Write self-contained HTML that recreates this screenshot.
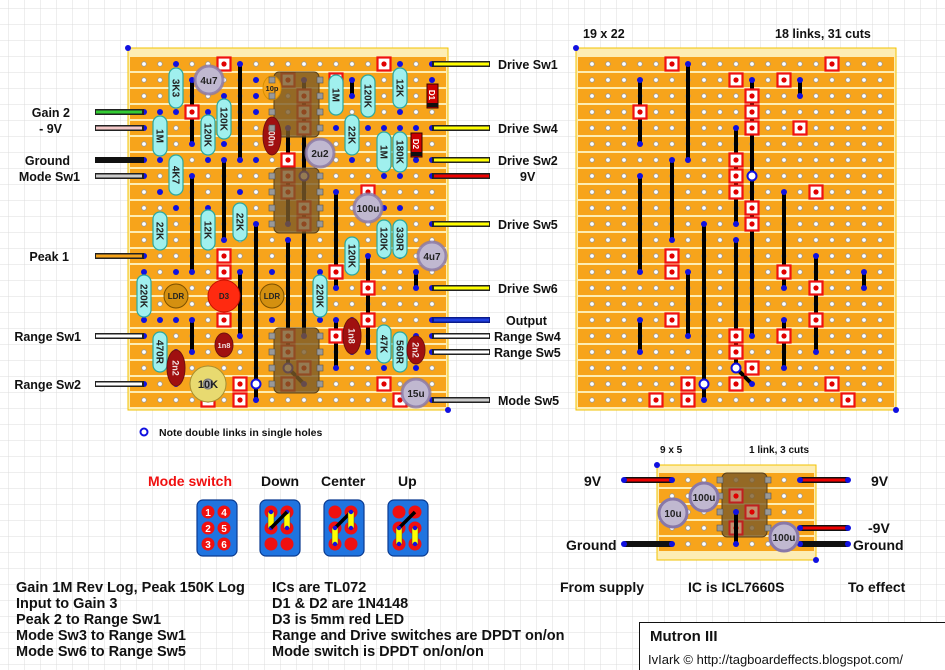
<!DOCTYPE html>
<html><head><meta charset="utf-8"><style>
html,body{margin:0;padding:0;background:#fff}
svg{display:block}
text{font-family:"Liberation Sans",Arial,sans-serif;font-weight:bold}
</style></head><body>
<svg id="s" width="945" height="670" viewBox="0 0 945 670" xmlns="http://www.w3.org/2000/svg">
<defs>
<pattern id="grid" width="16" height="16" patternUnits="userSpaceOnUse" x="8" y="8">
<path d="M16 0H0V16" fill="none" stroke="#dcdcdc" stroke-width="1"/>
</pattern>
</defs>
<rect width="945" height="670" fill="url(#grid)"/>
<g id="base"></g>

<g stroke-linecap="butt">
<line x1="95" y1="112" x2="144" y2="112" stroke="#222" stroke-width="6"/><line x1="96" y1="112" x2="142" y2="112" stroke="#3c3" stroke-width="3"/>
<line x1="95" y1="128" x2="144" y2="128" stroke="#222" stroke-width="6"/><line x1="96" y1="128" x2="142" y2="128" stroke="#f4c8c8" stroke-width="3"/>
<line x1="95" y1="160" x2="144" y2="160" stroke="#111" stroke-width="6"/>
<line x1="95" y1="176" x2="144" y2="176" stroke="#222" stroke-width="6"/><line x1="96" y1="176" x2="142" y2="176" stroke="#ccc" stroke-width="3"/>
<line x1="95" y1="256" x2="144" y2="256" stroke="#222" stroke-width="6"/><line x1="96" y1="256" x2="142" y2="256" stroke="#f5a31a" stroke-width="3"/>
<line x1="95" y1="336" x2="144" y2="336" stroke="#222" stroke-width="6"/><line x1="96" y1="336" x2="142" y2="336" stroke="#fff" stroke-width="3"/>
<line x1="95" y1="384" x2="144" y2="384" stroke="#222" stroke-width="6"/><line x1="96" y1="384" x2="142" y2="384" stroke="#fff" stroke-width="3"/>
<line x1="432" y1="64" x2="490" y2="64" stroke="#222" stroke-width="6"/><line x1="434" y1="64" x2="489" y2="64" stroke="#ff0" stroke-width="3"/>
<line x1="432" y1="128" x2="490" y2="128" stroke="#222" stroke-width="6"/><line x1="434" y1="128" x2="489" y2="128" stroke="#ff0" stroke-width="3"/>
<line x1="432" y1="160" x2="490" y2="160" stroke="#222" stroke-width="6"/><line x1="434" y1="160" x2="489" y2="160" stroke="#ff0" stroke-width="3"/>
<line x1="432" y1="176" x2="490" y2="176" stroke="#222" stroke-width="6"/><line x1="434" y1="176" x2="489" y2="176" stroke="#e00" stroke-width="3"/>
<line x1="432" y1="224" x2="490" y2="224" stroke="#222" stroke-width="6"/><line x1="434" y1="224" x2="489" y2="224" stroke="#ff0" stroke-width="3"/>
<line x1="432" y1="288" x2="490" y2="288" stroke="#222" stroke-width="6"/><line x1="434" y1="288" x2="489" y2="288" stroke="#ff0" stroke-width="3"/>
<line x1="432" y1="320" x2="490" y2="320" stroke="#0a1a8a" stroke-width="6"/><line x1="434" y1="320" x2="489" y2="320" stroke="#2040e0" stroke-width="3"/>
<line x1="432" y1="336" x2="490" y2="336" stroke="#222" stroke-width="6"/><line x1="434" y1="336" x2="489" y2="336" stroke="#fff" stroke-width="3"/>
<line x1="432" y1="352" x2="490" y2="352" stroke="#222" stroke-width="6"/><line x1="434" y1="352" x2="489" y2="352" stroke="#fff" stroke-width="3"/>
<line x1="432" y1="400" x2="490" y2="400" stroke="#222" stroke-width="6"/><line x1="434" y1="400" x2="489" y2="400" stroke="#ccc" stroke-width="3"/>
</g>

<g fill="#7a5a28" fill-opacity="0.8" stroke="#5a4018">
<rect x="274" y="72" width="45" height="65" rx="5"/>
<rect x="274" y="168" width="45" height="65" rx="5"/>
<rect x="274" y="328" width="45" height="65" rx="5"/>
</g>

<g fill="#a0f0ee" stroke="#2aa8a0" stroke-width="1.2">
<rect x="169" y="68" width="14" height="40" rx="7"/>
<rect x="153" y="116" width="14" height="40" rx="7"/>
<rect x="169" y="155" width="14" height="40" rx="7"/>
<rect x="201" y="115" width="14" height="40" rx="7"/>
<rect x="217" y="99" width="14" height="40" rx="7"/>
<rect x="329" y="75" width="14" height="40" rx="7"/>
<rect x="361" y="75" width="14" height="42" rx="7"/>
<rect x="345" y="115" width="14" height="40" rx="7"/>
<rect x="393" y="68" width="14" height="40" rx="7"/>
<rect x="377" y="132" width="14" height="40" rx="7"/>
<rect x="393" y="132" width="14" height="40" rx="7"/>
<rect x="153" y="212" width="14" height="38" rx="7"/>
<rect x="201" y="210" width="14" height="40" rx="7"/>
<rect x="233" y="203" width="14" height="38" rx="7"/>
<rect x="137" y="275" width="14" height="42" rx="7"/>
<rect x="313" y="275" width="14" height="42" rx="7"/>
<rect x="345" y="237" width="14" height="38" rx="7"/>
<rect x="377" y="220" width="14" height="38" rx="7"/>
<rect x="393" y="220" width="14" height="38" rx="7"/>
<rect x="153" y="332" width="14" height="40" rx="7"/>
<rect x="377" y="325" width="14" height="38" rx="7"/>
<rect x="393" y="332" width="14" height="40" rx="7"/>
</g>
<g font-size="10" fill="#222" text-anchor="middle">
<text transform="translate(176,88) rotate(90)" dy="3.5">3K3</text>
<text transform="translate(160,136) rotate(90)" dy="3.5">1M</text>
<text transform="translate(176,175) rotate(90)" dy="3.5">4K7</text>
<text transform="translate(208,135) rotate(90)" dy="3.5">120K</text>
<text transform="translate(224,119) rotate(90)" dy="3.5">120K</text>
<text transform="translate(336,95) rotate(90)" dy="3.5">1M</text>
<text transform="translate(368,96) rotate(90)" dy="3.5">120K</text>
<text transform="translate(352,135) rotate(90)" dy="3.5">22K</text>
<text transform="translate(400,88) rotate(90)" dy="3.5">12K</text>
<text transform="translate(384,152) rotate(90)" dy="3.5">1M</text>
<text transform="translate(400,152) rotate(90)" dy="3.5">180K</text>
<text transform="translate(160,231) rotate(90)" dy="3.5">22K</text>
<text transform="translate(208,230) rotate(90)" dy="3.5">12K</text>
<text transform="translate(240,222) rotate(90)" dy="3.5">22K</text>
<text transform="translate(144,296) rotate(90)" dy="3.5">220K</text>
<text transform="translate(320,296) rotate(90)" dy="3.5">220K</text>
<text transform="translate(352,256) rotate(90)" dy="3.5">120K</text>
<text transform="translate(384,239) rotate(90)" dy="3.5">120K</text>
<text transform="translate(400,239) rotate(90)" dy="3.5">330R</text>
<text transform="translate(160,352) rotate(90)" dy="3.5">470R</text>
<text transform="translate(384,344) rotate(90)" dy="3.5">47K</text>
<text transform="translate(400,352) rotate(90)" dy="3.5">560R</text>
</g>

<g fill="#a01010" stroke="#701010">
<ellipse cx="272" cy="136" rx="9" ry="19"/>
<ellipse cx="176" cy="368" rx="9" ry="18"/>
<ellipse cx="224" cy="345" rx="9" ry="12"/>
<ellipse cx="352" cy="336" rx="9" ry="18"/>
<ellipse cx="416" cy="350" rx="9" ry="14"/>
</g>
<ellipse cx="272" cy="88" rx="9" ry="12" fill="#f5a31a" stroke="#d89000"/>
<g font-size="9" fill="#f0e0e0" text-anchor="middle">
<text transform="translate(272,136) rotate(90)" dy="3.5">100n</text>
<text transform="translate(176,368) rotate(90)" dy="3.5">2n2</text>
<text x="224" y="348" font-size="7.5">1n8</text>
<text transform="translate(352,336) rotate(90)" dy="3.5">1n8</text>
<text transform="translate(416,350) rotate(90)" dy="3.5">2n2</text>
</g>
<text x="272" y="91" font-size="7.5" fill="#222" text-anchor="middle">10p</text>

<g fill="#c0b8d0" stroke="#8878a8" stroke-width="3" stroke-opacity="0.8">
<circle cx="209" cy="80" r="14"/>
<circle cx="320" cy="153" r="14"/>
<circle cx="368" cy="208" r="14"/>
<circle cx="432" cy="256" r="14"/>
<circle cx="416" cy="393" r="14"/>
</g>
<g font-size="10" fill="#222" text-anchor="middle">
<text x="209" y="84">4u7</text>
<text x="320" y="157">2u2</text>
<text x="368" y="212">100u</text>
<text x="432" y="260">4u7</text>
<text x="416" y="397">15u</text>
</g>

<circle cx="176" cy="296" r="12" fill="#d49010" stroke="#7a5000"/>
<circle cx="272" cy="296" r="12" fill="#d49010" stroke="#7a5000"/>
<circle cx="224" cy="296" r="16" fill="#ff2a10" stroke="#c01000"/>
<circle cx="208" cy="384" r="18" fill="#e8da70" stroke="#a89030"/>
<circle cx="208" cy="384" r="5" fill="#aaa" stroke="#777"/>
<g font-size="8" fill="#222" text-anchor="middle">
<text x="176" y="299">LDR</text><text x="272" y="299">LDR</text><text x="224" y="299">D3</text>
<text x="208" y="388" font-size="11">10K</text>
</g>
<rect x="427" y="84" width="11" height="24" fill="#c00" stroke="#300"/><rect x="427" y="103" width="11" height="4" fill="#111"/>
<rect x="411" y="133" width="11" height="24" fill="#c00" stroke="#300"/><rect x="411" y="152" width="11" height="4" fill="#111"/>
<text transform="translate(432,95) rotate(90)" dy="3" font-size="8" fill="#fff" text-anchor="middle">D1</text>
<text transform="translate(416,144) rotate(90)" dy="3" font-size="8" fill="#fff" text-anchor="middle">D2</text>

<g id="top"></g>

<g font-size="12.5" fill="#111">
<g text-anchor="end">
<text x="70" y="117">Gain 2</text>
<text x="62" y="133">- 9V</text>
<text x="70" y="165">Ground</text>
<text x="80" y="181">Mode Sw1</text>
<text x="69" y="261">Peak 1</text>
<text x="81" y="341">Range Sw1</text>
<text x="81" y="389">Range Sw2</text>
</g>
<text x="498" y="69">Drive Sw1</text>
<text x="498" y="133">Drive Sw4</text>
<text x="498" y="165">Drive Sw2</text>
<text x="520" y="181">9V</text>
<text x="498" y="229">Drive Sw5</text>
<text x="498" y="293">Drive Sw6</text>
<text x="506" y="325">Output</text>
<text x="494" y="341">Range Sw4</text>
<text x="494" y="357">Range Sw5</text>
<text x="498" y="405">Mode Sw5</text>
<text x="583" y="38">19 x 22</text>
<text x="775" y="38">18 links, 31 cuts</text>
</g>
<circle cx="144" cy="432" r="3.5" fill="#fff" stroke="#1010e0" stroke-width="2"/>
<text x="159" y="436" font-size="10.5" fill="#111">Note double links in single holes</text>

<g font-size="14">
<text x="148" y="486" fill="#f01010">Mode switch</text>
<text x="261" y="486" fill="#111">Down</text>
<text x="321" y="486" fill="#111">Center</text>
<text x="398" y="486" fill="#111">Up</text>
</g>
<g id="sw"></g>

<g fill="#111">
<text x="660" y="453" font-size="10">9 x 5</text>
<text x="749" y="453" font-size="10">1 link, 3 cuts</text>
<text x="584" y="486" font-size="14">9V</text>
<text x="566" y="550" font-size="14">Ground</text>
<text x="871" y="486" font-size="14">9V</text>
<text x="868" y="533" font-size="14">-9V</text>
<text x="853" y="550" font-size="14">Ground</text>
</g>

<g font-size="14.5" fill="#111">
<text x="16" y="592">Gain 1M Rev Log, Peak 150K Log</text>
<text x="16" y="608">Input to Gain 3</text>
<text x="16" y="624">Peak 2 to Range Sw1</text>
<text x="16" y="640">Mode Sw3 to Range Sw1</text>
<text x="16" y="656">Mode Sw6 to Range Sw5</text>
<text x="272" y="592">ICs are TL072</text>
<text x="272" y="608">D1 &amp; D2 are 1N4148</text>
<text x="272" y="624">D3 is 5mm red LED</text>
<text x="272" y="640">Range and Drive switches are DPDT on/on</text>
<text x="272" y="656">Mode switch is DPDT on/on/on</text>
</g>
<g font-size="14" fill="#111">
<text x="560" y="592">From supply</text>
<text x="688" y="592">IC is ICL7660S</text>
<text x="848" y="592">To effect</text>
</g>
<rect x="639.5" y="622.5" width="310" height="50" fill="#fff" stroke="#111"/>
<text x="650" y="641" font-size="15" fill="#111">Mutron III</text>
<text x="648" y="664" font-size="13" fill="#111" style="font-weight:normal">IvIark © http://tagboardeffects.blogspot.com/</text>
</svg>
<script>
var NS="http://www.w3.org/2000/svg";
function el(p,t,a){var e=document.createElementNS(NS,t);for(var k in a)e.setAttribute(k,a[k]);p.appendChild(e);return e;}
var base=document.getElementById('base'),top_=document.getElementById('top');
var cuts=[[5,0],[15,0],[9,1],[12,1],[10,2],[3,3],[10,3],[10,4],[13,4],[9,6],[9,7],[9,8],[14,8],[10,9],[10,10],[5,12],[5,13],[12,13],[14,14],[5,16],[14,16],[9,17],[12,17],[9,18],[10,19],[6,20],[9,20],[15,20],[4,21],[6,21],[16,21]];
var links=[[3,1,5],[6,0,6],[13,1,2],[10,1,17],[9,4,10],[9,11,19],[5,6,11],[3,7,13],[12,8,14],[7,10,21],[14,12,18],[17,13,14],[3,16,18],[6,13,17],[12,16,19]];
var dbl=[[10,7],[7,20],[9,19]];
function board(ox){
 var L=ox-16,T=48;
 el(base,'rect',{x:L,y:T,width:320,height:362,fill:'#fdedb4',stroke:'#f2c200','stroke-width':1});
 for(var r=0;r<22;r++) el(base,'rect',{x:L+2,y:64+16*r-7,width:316,height:14,fill:'#f7a41b'});
 for(r=0;r<22;r++)for(var c=0;c<19;c++) el(base,'circle',{cx:ox+16*c,cy:64+16*r,r:2.3,fill:'#fff',stroke:'#999','stroke-width':0.8});
 links.forEach(function(l){var x=ox+16*l[0];el(base,'line',{x1:x,y1:64+16*l[1],x2:x,y2:64+16*l[2],stroke:'#000','stroke-width':4});
  el(base,'circle',{cx:x,cy:64+16*l[1],r:3,fill:'#1010e0'});el(base,'circle',{cx:x,cy:64+16*l[2],r:3,fill:'#1010e0'});});
 el(base,'line',{x1:ox+144,y1:368,x2:ox+160,y2:384,stroke:'#000','stroke-width':4});
 el(base,'circle',{cx:ox+160,cy:384,r:3,fill:'#1010e0'});
 cuts.forEach(function(k){var x=ox+16*k[0],y=64+16*k[1];
  el(base,'rect',{x:x-6.5,y:y-6.5,width:13,height:13,fill:'#fff',stroke:'#f01010','stroke-width':2.2});
  el(base,'circle',{cx:x,cy:y,r:2.6,fill:'#e00000'});});
 dbl.forEach(function(d){el(base,'circle',{cx:ox+16*d[0],cy:64+16*d[1],r:4.5,fill:'#fff',stroke:'#1010e0','stroke-width':2});});
 el(base,'circle',{cx:L,cy:T,r:3,fill:'#1010e0'});
 el(base,'circle',{cx:L+320,cy:T+362,r:3,fill:'#1010e0'});
}
board(144);board(592);
[[72,137],[168,233],[328,393]].forEach(function(b){for(var i=0;i<4;i++){var y=b[0]+8+16*i;
 el(top_,'rect',{x:269,y:y-3,width:6,height:6,fill:'#999',stroke:'#555','stroke-width':.6});
 el(top_,'rect',{x:317,y:y-3,width:6,height:6,fill:'#999',stroke:'#555','stroke-width':.6});}});
var leads=[[2,0],[2,3],[1,3],[1,6],[2,6],[2,9],[4,3],[4,6],[5,2],[5,5],[12,1],[12,4],[14,1],[14,4],[13,4],[13,6],[16,0],[16,3],[15,4],[15,7],[16,4],[16,7],[1,8],[1,11],[4,9],[4,11],[6,8],[6,10],[0,13],[0,16],[11,13],[11,16],[13,11],[13,13],[15,9],[15,12],[16,9],[16,12],[1,16],[1,19],[15,17],[15,19],[16,17],[16,19],[7,3],[7,6],[2,18],[2,20],[5,17],[5,18],[13,16],[13,18],[17,17],[17,19],[7,1],[7,2],[18,1],[18,2],[17,4],[17,6],[2,13],[2,16],[8,13],[8,16],[0,3],[0,4],[0,6],[0,7],[0,12],[0,17],[0,20],[18,0],[18,4],[18,6],[18,7],[18,10],[18,14],[18,16],[18,17],[18,18],[18,21]];
leads.forEach(function(p){el(base,'circle',{cx:144+16*p[0],cy:64+16*p[1],r:3,fill:'#1010e0'});});
var sb=el(document.getElementById('s'),'g',{});
el(sb,'rect',{x:657,y:465,width:159,height:95,fill:'#fdedb4',stroke:'#f2c200'});
for(var r=0;r<5;r++) el(sb,'rect',{x:659,y:480+16*r-7,width:155,height:14,fill:'#f7a41b'});
for(r=0;r<5;r++)for(var c=0;c<9;c++) el(sb,'circle',{cx:672+16*c,cy:480+16*r,r:2.3,fill:'#fff',stroke:'#999','stroke-width':.8});
el(sb,'circle',{cx:657,cy:465,r:3,fill:'#1010e0'});el(sb,'circle',{cx:816,cy:560,r:3,fill:'#1010e0'});
function w(x1,y,x2,col){el(sb,'line',{x1:x1,y1:y,x2:x2,y2:y,stroke:'#111','stroke-width':6});if(col)el(sb,'line',{x1:x1+2,y1:y,x2:x2-2,y2:y,stroke:col,'stroke-width':3});
 el(sb,'circle',{cx:x1,cy:y,r:3,fill:'#1010e0'});el(sb,'circle',{cx:x2,cy:y,r:3,fill:'#1010e0'});}
w(624,480,672,'#e00');w(624,544,672,null);w(800,480,848,'#e00');w(800,528,848,'#e00');w(800,544,848,null);
el(sb,'rect',{x:722,y:473,width:45,height:64,rx:5,fill:'#7a5a28','fill-opacity':.8,stroke:'#5a4018'});
for(var i=0;i<4;i++){el(sb,'rect',{x:717,y:477+16*i,width:6,height:6,fill:'#999',stroke:'#555','stroke-width':.6});el(sb,'rect',{x:765,y:477+16*i,width:6,height:6,fill:'#999',stroke:'#555','stroke-width':.6});}
[[736,496],[752,512],[736,528]].forEach(function(k){el(sb,'rect',{x:k[0]-6.5,y:k[1]-6.5,width:13,height:13,fill:'#c09070',stroke:'#c02020','stroke-width':2});el(sb,'circle',{cx:k[0],cy:k[1],r:2.6,fill:'#e00000'});});
el(sb,'line',{x1:736,y1:512,x2:736,y2:544,stroke:'#000','stroke-width':4});
el(sb,'circle',{cx:736,cy:512,r:3,fill:'#1010e0'});el(sb,'circle',{cx:736,cy:544,r:3,fill:'#1010e0'});
[[704,497],[673,513],[784,537]].forEach(function(cp){el(sb,'circle',{cx:cp[0],cy:cp[1],r:14,fill:'#c0b8d0',stroke:'#8878a8','stroke-width':3});});
var sw=document.getElementById('sw');
[197,260,324,388].forEach(function(bx,n){
 el(sw,'rect',{x:bx,y:500,width:40,height:56,rx:6,fill:'#1f74e0',stroke:'#0a3a90','stroke-width':1.2});
 var X=[bx+11,bx+27],Y=[512,528,544];
 for(var a=0;a<2;a++)for(var b=0;b<3;b++)el(sw,'circle',{cx:X[a],cy:Y[b],r:6.5,fill:'#f01010'});
 function yb(x,y1,y2){el(sw,'rect',{x:x-3,y:y1,width:6,height:y2-y1,fill:'#ffff00',stroke:'#444','stroke-width':.5});el(sw,'circle',{cx:x,cy:y1,r:2.2,fill:'#1010e0'});el(sw,'circle',{cx:x,cy:y2,r:2.2,fill:'#1010e0'});}
 function diag(){el(sw,'line',{x1:X[0],y1:528,x2:X[1],y2:512,stroke:'#000','stroke-width':3.5});}
 if(n==1){yb(X[0],512,528);yb(X[1],512,528);diag();}
 if(n==2){diag();yb(X[0],528,544);yb(X[1],512,528);}
 if(n==3){diag();yb(X[0],528,544);yb(X[1],528,544);}
});
</script>
<svg style="position:absolute;left:0;top:0" width="945" height="670" pointer-events="none">
<g font-family="Liberation Sans, sans-serif" font-weight="bold" font-size="10" fill="#fff" text-anchor="middle">
<text x="208" y="516">1</text><text x="224" y="516">4</text>
<text x="208" y="532">2</text><text x="224" y="532">5</text>
<text x="208" y="548">3</text><text x="224" y="548">6</text>
</g>
<g font-family="Liberation Sans, sans-serif" font-weight="bold" font-size="10" fill="#222" text-anchor="middle">
<text x="704" y="501">100u</text><text x="673" y="517">10u</text><text x="784" y="541">100u</text>
</g>
</svg>
</body></html>
